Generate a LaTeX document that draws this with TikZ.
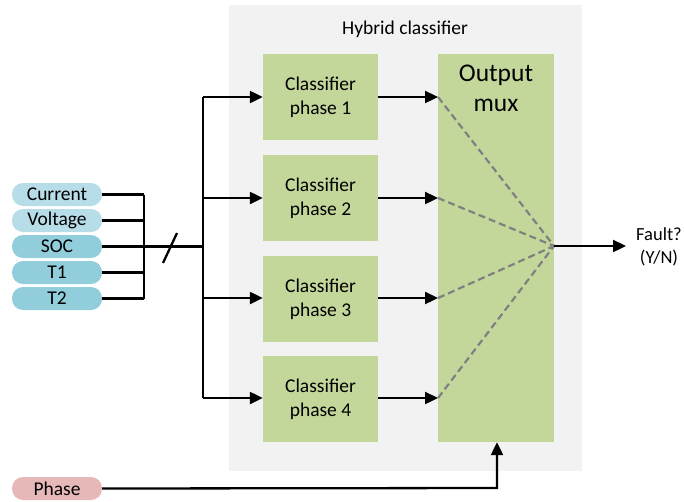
\documentclass[tikz,border=0pt]{standalone}
\usepackage{fontspec}
\setmainfont{Carlito}
\usetikzlibrary{arrows.meta}
\definecolor{bgray}{HTML}{F2F2F2}
\definecolor{cgreen}{HTML}{C4D79B}
\definecolor{lblue}{HTML}{B7DEE8}
\definecolor{dblue}{HTML}{92CDDC}
\definecolor{pink}{HTML}{E6B9B8}
\definecolor{dgray}{HTML}{808080}
\begin{document}
\begin{tikzpicture}[x=1pt,y=-1pt,
  cls/.style={fill=cgreen,draw=none,minimum width=115pt,minimum height=86pt,inner sep=0pt,align=center,font=\fontsize{19.5}{24}\selectfont},
  pill/.style={rounded corners=11pt,minimum width=90pt,minimum height=23pt,inner sep=0pt,font=\fontsize{19.5}{21}\selectfont},
  wire/.style={line width=2.3pt},
  arr/.style={wire,-{Triangle[length=13pt,width=12pt]}},
  dsh/.style={dgray,line width=2.2pt,dash pattern=on 7pt off 4pt}]
\useasboundingbox (0,0) rectangle (684,501);
\fill[bgray] (229,5) rectangle (582,471);
\node[font=\fontsize{19.5}{21}\selectfont] (title) at (405,29) {Hybrid classifier};
\node[cls] (c1) at (320.5,97) {Classifier\\phase 1};
\node[cls] (c2) at (320.5,198) {Classifier\\phase 2};
\node[cls] (c3) at (320.5,299) {Classifier\\phase 3};
\node[cls] (c4) at (320.5,399) {Classifier\\phase 4};
\node[fill=cgreen,minimum width=116pt,minimum height=388pt,inner sep=0pt] (mux) at (496,248) {};
\node[align=center,font=\fontsize{25.5}{30}\selectfont,anchor=north] (muxt) at (496,61) {Output\\mux};
\node[pill,fill=lblue] (cur) at (57,194.5) {Current};
\node[pill,fill=lblue] (vol) at (57,220.5) {Voltage};
\node[pill,fill=dblue] (soc) at (57,246.5) {SOC};
\node[pill,fill=dblue] (t1) at (57,272.5) {T1};
\node[pill,fill=dblue] (t2) at (57,298.5) {T2};
\node[pill,fill=pink] (ph) at (57,488.5) {Phase};
\coordinate (b1) at (144,194);
\coordinate (b5) at (144,298);
\coordinate (split) at (203,246);
\coordinate (v1) at (203,97);
\coordinate (v4) at (203,398);
\coordinate (m1) at (438,97);
\coordinate (m2) at (438,198);
\coordinate (m3) at (438,298);
\coordinate (m4) at (438,398);
\coordinate (mo) at (554,246);
\coordinate (fo) at (626,246);
\coordinate (s1) at (163,263);
\coordinate (s2) at (177,233);
\coordinate (pc) at (497,488);
% inputs
\draw[wire] (cur.east) -- (b1|-cur.east);
\draw[wire] (vol.east) -- (b1|-vol.east);
\draw[wire] (t1.east) -- (b1|-t1.east);
\draw[wire] (t2.east) -- (b1|-t2.east);
\draw[wire] (b1|-cur.east) -- (b5|-t2.east);
\draw[wire] (soc.east) -- (split|-soc.east);
\draw[wire] (s1) -- (s2);
\draw[wire] (v1) -- (v4);
\draw[arr] (v1) -- (c1.west|-v1);
\draw[arr] (203,198) -- (c2.west|-m2);
\draw[arr] (203,298) -- (c3.west|-m3);
\draw[arr] (v4) -- (c4.west|-v4);
\draw[arr] (c1.east|-m1) -- (m1);
\draw[arr] (c2.east|-m2) -- (m2);
\draw[arr] (c3.east|-m3) -- (m3);
\draw[arr] (c4.east|-m4) -- (m4);
\draw[dsh] (m1) -- (mo);
\draw[dsh] (m2) -- (mo);
\draw[dsh] (m3) -- (mo);
\draw[dsh] (m4) -- (mo);
\draw[arr] (mo) -- (fo);
\node[align=center,font=\fontsize{18.5}{23}\selectfont] (fault) at (659,247) {Fault?\\(Y/N)};
\draw[arr] (ph.east) -- (pc) -- (mux.south-|pc);
\end{tikzpicture}
\end{document}
